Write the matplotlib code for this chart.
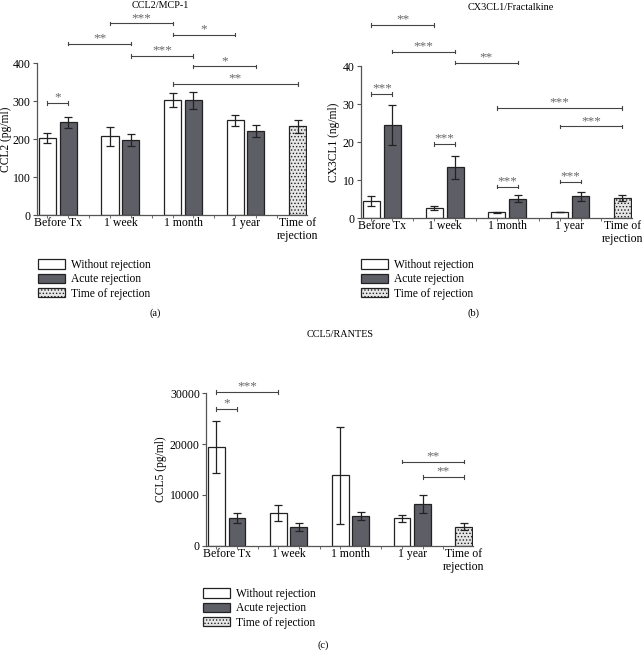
import matplotlib.pyplot as plt
from matplotlib.patches import Patch

plt.rcParams['font.family'] = ['Liberation Serif', 'DejaVu Serif']
plt.rcParams['font.size'] = 8.5
plt.rcParams['hatch.linewidth'] = 0.6
plt.rcParams['hatch.color'] = '#777777'

groups = ["Before Tx", "1 week", "1 month", "1 year", "Time of\nrejection"]

# CCL2/MCP-1 (pg/ml)
ccl2_without = [203, 207, 302, 249]
ccl2_without_err = [14, 25, 19, 15]
ccl2_acute = [244, 197, 302, 222]
ccl2_acute_err = [15, 16, 22, 16]
ccl2_tor, ccl2_tor_err = 233, 18
# (slot from, slot to, y, stars)
ccl2_sig = [(0, 1, 294, "*"), (3, 6, 504, "***"), (6, 9, 475, "*"),
            (1, 4, 451, "**"), (4, 7, 419, "***"), (7, 10, 391, "*"),
            (6, 12, 345, "**")]

# CX3CL1/Fractalkine (ng/ml)
cx3_without = [4.55, 2.6, 1.5, 1.6]
cx3_without_err = [1.3, 0.5, 0.1, 0.1]
cx3_acute = [24.5, 13.4, 5.1, 5.7]
cx3_acute_err = [5.3, 3.0, 0.9, 1.1]
cx3_tor, cx3_tor_err = 5.3, 0.8
cx3_sig = [(0, 3, 50.8, "**"), (1, 4, 43.8, "***"), (4, 7, 40.9, "**"),
           (0, 1, 32.6, "***"), (3, 4, 19.5, "***"), (6, 7, 8.3, "***"),
           (9, 10, 9.6, "***"), (6, 12, 28.9, "***"), (9, 12, 24.1, "***")]

# CCL5/RANTES (pg/ml)
ccl5_without = [19400, 6500, 13900, 5400]
ccl5_without_err = [5100, 1550, 9500, 700]
ccl5_acute = [5500, 3750, 5850, 8250]
ccl5_acute_err = [900, 800, 800, 1700]
ccl5_tor, ccl5_tor_err = 3800, 750
ccl5_sig = [(0, 3, 30140, "***"), (0, 1, 26850, "*"),
            (9, 12, 16550, "**"), (10, 12, 13590, "**")]

DARK = '#5d5e66'
W = 0.82


def panel(ax, without, without_err, acute, acute_err, tor, tor_err, sig,
          ymax, ystep, ylabel, label_x):
    xw = [3 * i for i in range(4)]
    xa = [3 * i + 1 for i in range(4)]
    ek = dict(elinewidth=0.9, capsize=3, capthick=0.9, ecolor='#222222')
    ax.bar(xw, without, W, yerr=without_err, color='white',
           edgecolor='#222222', linewidth=0.9, error_kw=ek)
    ax.bar(xa, acute, W, yerr=acute_err, color=DARK,
           edgecolor='#222222', linewidth=0.9, error_kw=ek)
    ax.bar([12], [tor], W, yerr=[tor_err], color='#e6e6e6', hatch='.....',
           edgecolor='#222222', linewidth=0.9, error_kw=ek)

    ax.set_xlim(-0.5, 12.45)
    ax.set_ylim(0, ymax)
    ax.set_yticks(range(0, ymax + 1, ystep))
    ax.set_xticks([0.5, 3.5, 6.5, 9.5, 12])
    ax.set_xticklabels(groups, linespacing=1.05)
    ax.set_xticks(range(13), minor=True)
    ax.tick_params(axis='x', which='major', length=0, pad=1.5)
    ax.tick_params(axis='x', which='minor', length=2.5, color='#555555')
    ax.tick_params(axis='y', length=3, color='#555555', pad=1.5)
    for s in ['top', 'right']:
        ax.spines[s].set_visible(False)
    for s in ['left', 'bottom']:
        ax.spines[s].set_color('#555555')
        ax.spines[s].set_linewidth(0.9)
    ax.set_ylabel(ylabel, fontsize=8.3)
    ax.yaxis.set_label_coords(label_x, 0.5)

    tick = ymax * 0.012
    for x1, x2, y, stars in sig:
        ax.plot([x1, x2], [y, y], color='#444444', lw=0.8, clip_on=False)
        for x in (x1, x2):
            ax.plot([x, x], [y - tick, y + tick], color='#444444', lw=0.8,
                    clip_on=False)
        ax.text((x1 + x2) / 2, y - ymax * 0.003, stars, ha='center',
                va='bottom', color='#666666', fontsize=9.5)


fig = plt.figure(figsize=(6.42, 6.51), dpi=100)

ax1 = fig.add_axes([0.0576, 0.6697, 0.4206, 0.2335])
panel(ax1, ccl2_without, ccl2_without_err, ccl2_acute, ccl2_acute_err,
      ccl2_tor, ccl2_tor_err, ccl2_sig, 400, 100, "CCL2 (pg/ml)", -0.092)

ax2 = fig.add_axes([0.5623, 0.665, 0.4217, 0.2336])
panel(ax2, cx3_without, cx3_without_err, cx3_acute, cx3_acute_err,
      cx3_tor, cx3_tor_err, cx3_sig, 40, 10, "CX3CL1 (ng/ml)", -0.077)

ax3 = fig.add_axes([0.321, 0.1613, 0.416, 0.235])
panel(ax3, ccl5_without, ccl5_without_err, ccl5_acute, ccl5_acute_err,
      ccl5_tor, ccl5_tor_err, ccl5_sig, 30000, 10000, "CCL5 (pg/ml)", -0.146)

# titles and panel labels
fig.text(160 / 642, 1 - 6 / 651, "CCL2/MCP-1", ha='center', va='center',
         fontsize=7.3)
fig.text(511 / 642, 1 - 7 / 651, "CX3CL1/Fractalkine", ha='center',
         va='center', fontsize=7.3)
fig.text(340 / 642, 1 - 335 / 651, "CCL5/RANTES", ha='center', va='center',
         fontsize=7.3)
fig.text(155 / 642, 1 - 313 / 651, "(a)", ha='center', va='center', fontsize=7.5)
fig.text(474 / 642, 1 - 313 / 651, "(b)", ha='center', va='center', fontsize=7.5)
fig.text(323 / 642, 1 - 645 / 651, "(c)", ha='center', va='center', fontsize=7.5)

# legends
handles = [Patch(facecolor='white', edgecolor='#222222', lw=0.9),
           Patch(facecolor=DARK, edgecolor='#222222', lw=0.9),
           Patch(facecolor='#e6e6e6', edgecolor='#222222', lw=0.9,
                 hatch='.....')]
names = ["Without rejection", "Acute rejection", "Time of rejection"]
for x, y in [(38, 259), (361, 259), (203, 588)]:
    fig.legend(handles, names, loc='upper left',
               bbox_to_anchor=(x / 642, 1 - y / 651), frameon=False,
               borderpad=0, borderaxespad=0, handlelength=2.3,
               handleheight=0.85, handletextpad=0.6, labelspacing=0.2,
               fontsize=8.3)

fig.savefig("out.png", dpi=100)
